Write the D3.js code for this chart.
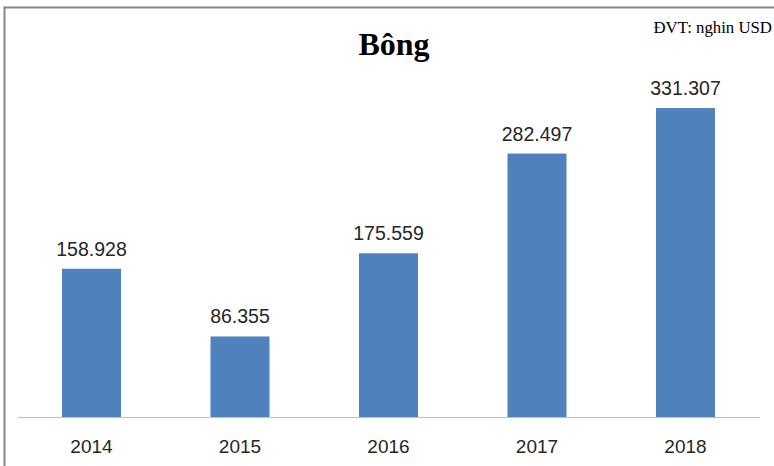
<!DOCTYPE html>
<html>
<head>
<meta charset="utf-8">
<script src="https://cdn.jsdelivr.net/npm/d3@7/dist/d3.min.js"></script>
<style>
  html, body { margin: 0; padding: 0; background: #fff; }
  svg { display: block; }
</style>
</head>
<body>
<svg id="chart" width="774" height="466"></svg>
<script>
// Export value of cotton by year (thousand USD)
const years = ["2014", "2015", "2016", "2017", "2018"];
const values = [158.928, 86.355, 175.559, 282.497, 331.307];
const valueLabels = ["158.928", "86.355", "175.559", "282.497", "331.307"];
const yDomain = [0, 350];

const title = "Bông";
const unitNote = "ĐVT: nghin USD";

const W = 774, H = 466;
const plot = { left: 17.25, right: 759.75, top: 90.6, bottom: 417 };

const svg = d3.select("#chart");

// Frame (top and left edges)
svg.append("line")
  .attr("x1", 4).attr("x2", W).attr("y1", 7.5).attr("y2", 7.5)
  .attr("stroke", "#868686").attr("stroke-width", 2);
svg.append("line")
  .attr("x1", 4.5).attr("x2", 4.5).attr("y1", 6.5).attr("y2", H)
  .attr("stroke", "#868686").attr("stroke-width", 2);

const x = d3.scaleBand()
  .domain(years)
  .range([plot.left, plot.right])
  .paddingInner(0.6027)
  .paddingOuter(0.30135);

const y = d3.scaleLinear()
  .domain(yDomain)
  .range([plot.bottom, plot.top]);

// Bars
svg.append("g").selectAll("rect")
  .data(years)
  .join("rect")
  .attr("x", d => x(d))
  .attr("width", x.bandwidth())
  .attr("y", (d, i) => y(values[i]))
  .attr("height", (d, i) => y(0) - y(values[i]))
  .attr("fill", "#4F81BD");

// Category axis
const xAxis = d3.axisBottom(x).tickSize(0).tickPadding(0);
const gx = svg.append("g")
  .attr("transform", `translate(0,${plot.bottom})`)
  .call(xAxis);
gx.select(".domain").attr("stroke", "#BFBFBF").attr("stroke-width", 1.2);
gx.selectAll(".tick text")
  .attr("dy", null)
  .attr("y", 35.5)
  .attr("font-family", "'Liberation Sans', Arial, sans-serif")
  .attr("font-size", 19)
  .attr("fill", "#262626");

// Value labels
svg.append("g").selectAll("text")
  .data(years)
  .join("text")
  .attr("x", d => x(d) + x.bandwidth() / 2)
  .attr("y", (d, i) => y(values[i]) - 13)
  .attr("text-anchor", "middle")
  .attr("font-family", "'Liberation Sans', Arial, sans-serif")
  .attr("font-size", 19.5)
  .attr("fill", "#262626")
  .text((d, i) => valueLabels[i]);

// Title
svg.append("text")
  .attr("x", 394)
  .attr("y", 54.5)
  .attr("text-anchor", "middle")
  .attr("font-family", "'Liberation Serif', 'Times New Roman', serif")
  .attr("font-weight", "bold")
  .attr("font-size", 32)
  .attr("fill", "#000")
  .text(title);

// Unit note
svg.append("text")
  .attr("x", 772)
  .attr("y", 32.5)
  .attr("text-anchor", "end")
  .attr("font-family", "'Liberation Serif', 'Times New Roman', serif")
  .attr("font-size", 16.8)
  .attr("fill", "#000")
  .text(unitNote);
</script>
</body>
</html>
